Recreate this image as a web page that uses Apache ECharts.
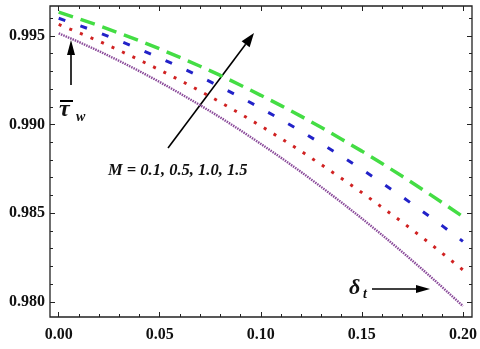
<!DOCTYPE html>
<html>
<head>
<meta charset="utf-8">
<script src="https://cdn.jsdelivr.net/npm/echarts@6/dist/echarts.min.js"></script>
<style>
  html, body { margin: 0; padding: 0; background: #fff; }
  #chart { width: 480px; height: 349px; }
</style>
</head>
<body>
<div id="chart"></div>
<script>
// delta_t values along the x axis
const deltaT = [0.00, 0.01, 0.02, 0.03, 0.04, 0.05, 0.06, 0.07, 0.08, 0.09, 0.10,
                0.11, 0.12, 0.13, 0.14, 0.15, 0.16, 0.17, 0.18, 0.19, 0.20];
// wall shear stress
const tauM01 = [0.99515, 0.99466, 0.99414, 0.99359, 0.99301, 0.99240, 0.99176, 0.99109, 0.99040, 0.98967, 0.98891,
                0.98813, 0.98732, 0.98647, 0.98560, 0.98470, 0.98377, 0.98281, 0.98182, 0.98080, 0.97976];
const tauM05 = [0.99565, 0.99518, 0.99470, 0.99418, 0.99364, 0.99308, 0.99250, 0.99189, 0.99126, 0.99060, 0.98992,
                0.98922, 0.98849, 0.98773, 0.98696, 0.98616, 0.98533, 0.98449, 0.98362, 0.98272, 0.98180];
const tauM10 = [0.99600, 0.99560, 0.99518, 0.99473, 0.99426, 0.99376, 0.99325, 0.99270, 0.99213, 0.99154, 0.99092,
                0.99028, 0.98962, 0.98892, 0.98821, 0.98747, 0.98670, 0.98592, 0.98510, 0.98427, 0.98341];
const tauM15 = [0.99634, 0.99597, 0.99558, 0.99516, 0.99473, 0.99427, 0.99379, 0.99329, 0.99277, 0.99222, 0.99165,
                0.99107, 0.99046, 0.98983, 0.98917, 0.98850, 0.98780, 0.98708, 0.98634, 0.98558, 0.98480];

const xTicks = [0.00, 0.05, 0.10, 0.15, 0.20];
const xMinorTicks = [0.01, 0.02, 0.03, 0.04, 0.06, 0.07, 0.08, 0.09, 0.11, 0.12, 0.13, 0.14, 0.16, 0.17, 0.18, 0.19];
const yTicks = [0.980, 0.985, 0.990, 0.995];
const yMinorTicks = [0.979, 0.981, 0.982, 0.983, 0.984, 0.986, 0.987, 0.988, 0.989,
                     0.991, 0.992, 0.993, 0.994, 0.996];

const chart = echarts.init(document.getElementById('chart'));

const X_MIN = -0.0043, X_MAX = 0.2045;
const Y_MIN = 0.97914, Y_MAX = 0.99669;
const FONT = "'Liberation Serif', 'DejaVu Serif', serif";

// one axis per tick set (major/minor, both sides) so the ticks sit on the exact values
function xAxisOf(pos, values, len, labels) {
  return {
    type: 'value', position: pos, min: X_MIN, max: X_MAX,
    axisLine: { show: false, onZero: false },
    splitLine: { show: false },
    axisTick: { show: true, inside: true, length: len, customValues: values,
                lineStyle: { color: '#222', width: 1 } },
    axisLabel: labels ? {
      show: true, customValues: values, margin: 10,
      fontFamily: FONT, fontSize: 16, fontWeight: 'bold', color: '#111',
      formatter: v => v.toFixed(2)
    } : { show: false }
  };
}
function yAxisOf(pos, values, len, labels) {
  return {
    type: 'value', position: pos, min: Y_MIN, max: Y_MAX,
    axisLine: { show: false, onZero: false },
    splitLine: { show: false },
    axisTick: { show: true, inside: true, length: len, customValues: values,
                lineStyle: { color: '#222', width: 1 } },
    axisLabel: labels ? {
      show: true, customValues: values, margin: 5,
      fontFamily: FONT, fontSize: 16, fontWeight: 'bold', color: '#111',
      formatter: v => v.toFixed(3)
    } : { show: false }
  };
}

function pairs(ys) {
  return deltaT.map((x, i) => [x, ys[i]]);
}

function curve(data, color, width, dash) {
  return {
    type: 'line', xAxisIndex: 0, yAxisIndex: 0,
    data: pairs(data), showSymbol: false, smooth: false, silent: true,
    lineStyle: { color: color, width: width, type: dash, cap: 'butt' }
  };
}

// arrow helper: shaft + filled head
function arrow(x1, y1, x2, y2, headLen, headHalf) {
  const dx = x2 - x1, dy = y2 - y1;
  const l = Math.sqrt(dx * dx + dy * dy);
  const ux = dx / l, uy = dy / l;
  const bx = x2 - ux * headLen, by = y2 - uy * headLen;
  return [
    { type: 'line', shape: { x1: x1, y1: y1, x2: bx, y2: by },
      style: { stroke: '#000', lineWidth: 1.6 } },
    { type: 'polygon',
      shape: { points: [[x2, y2], [bx - uy * headHalf, by + ux * headHalf], [bx + uy * headHalf, by - ux * headHalf]] },
      style: { fill: '#000' } }
  ];
}

const option = {
  backgroundColor: '#fff',
  animation: false,
  grid: { left: 50, right: 8, top: 6, bottom: 32, show: true,
          borderColor: '#222', borderWidth: 1.3, backgroundColor: 'transparent' },
  xAxis: [
    xAxisOf('bottom', xTicks, 5, true),
    xAxisOf('bottom', xMinorTicks, 3, false),
    xAxisOf('top', xTicks, 5, false),
    xAxisOf('top', xMinorTicks, 3, false)
  ],
  yAxis: [
    yAxisOf('left', yTicks, 5, true),
    yAxisOf('left', yMinorTicks, 3, false),
    yAxisOf('right', yTicks, 5, false),
    yAxisOf('right', yMinorTicks, 3, false)
  ],
  series: [
    curve(tauM01, '#8a4a9a', 2.4, [1.5, 1]),
    curve(tauM05, '#d02222', 3, [3, 8.5]),
    curve(tauM10, '#2222c8', 3, [7, 16]),
    curve(tauM15, '#44dd44', 3.5, [15, 8])
  ],
  graphic: [
    ...arrow(168, 148, 254, 33, 14, 5),
    ...arrow(71, 85, 71, 40, 15, 4),
    ...arrow(372, 289, 430, 289, 14, 4),
    { type: 'text', left: 108, top: 162,
      style: { text: 'M = 0.1, 0.5, 1.0, 1.5', font: "italic bold 16.5px 'Liberation Serif'", fill: '#111' } },
    { type: 'line', shape: { x1: 60, y1: 101, x2: 73, y2: 101 },
      style: { stroke: '#000', lineWidth: 2 } },
    { type: 'text', left: 59, top: 98,
      style: { text: 'τ', font: "italic bold 24px 'Liberation Serif'", fill: '#111' } },
    { type: 'text', left: 76, top: 110,
      style: { text: 'w', font: "italic bold 14px 'Liberation Serif'", fill: '#111' } },
    { type: 'text', left: 349, top: 277,
      style: { text: 'δ', font: "italic bold 22px 'Liberation Serif'", fill: '#111' } },
    { type: 'text', left: 363, top: 287,
      style: { text: 't', font: "italic bold 14px 'Liberation Serif'", fill: '#111' } }
  ]
};

chart.setOption(option);
</script>
</body>
</html>
